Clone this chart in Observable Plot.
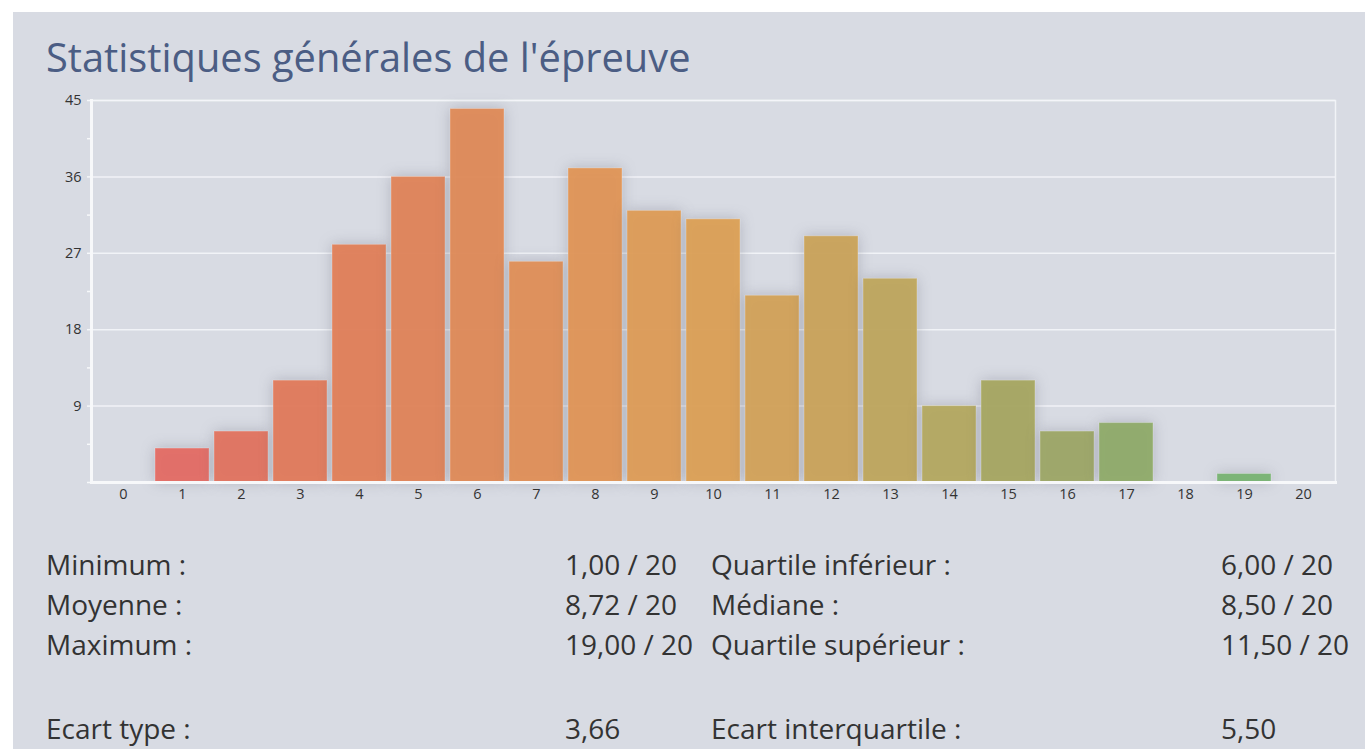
<!DOCTYPE html>
<html>
<head>
<meta charset="utf-8">
<script src="https://cdn.jsdelivr.net/npm/d3@7"></script>
<script src="https://cdn.jsdelivr.net/npm/@observablehq/plot@0.6"></script>
<style>
  html, body { margin: 0; padding: 0; background: #ffffff; width: 1365px; height: 749px; overflow: hidden; }
  #panel { position: absolute; left: 13px; top: 12px; width: 1352px; height: 737px; background: #d8dbe3; }
  #title { position: absolute; left: 46px; top: 37px; font-family: "Open Sans", sans-serif; font-size: 39.8px; color: #4b5d84; white-space: nowrap; line-height: 1; }
  #chart { position: absolute; left: 0; top: 90px; }
  #chart svg { overflow: visible; }
  #chart g[aria-label="bar"] rect { filter: drop-shadow(0 0 7px rgba(70, 70, 90, 0.28)); }
  #chart svg text { font-size: 14.5px !important; font-family: "Open Sans", sans-serif !important; }
  .st { position: absolute; font-family: "Open Sans", sans-serif; font-size: 28px; color: #333; white-space: nowrap; line-height: 1; }
</style>
</head>
<body>
<div id="panel"></div>
<div id="title">Statistiques générales de l'épreuve</div>
<div id="chart"></div>
<div id="stats"></div>
<script>
const grades = ["0","1","2","3","4","5","6","7","8","9","10","11","12","13","14","15","16","17","18","19","20"];
const counts = [0, 4, 6, 12, 28, 36, 44, 26, 37, 32, 31, 22, 29, 24, 9, 12, 6, 7, 0, 1, 0];
const barColors = ["#e46a64","#e46c64","#e2735f","#e17a5b","#e17f59","#e08458","#df8a57","#e08f57","#e09556","#de9c56","#dca055","#d3a258","#caa35a","#bfa65d","#b4a960","#a7a661","#9da766","#8fab69","#82ad6c","#78b272","#70b070"];
const yGridTicks = [9, 18, 27, 36, 45];
const yLabelTicks = [9, 18, 27, 36, 45];
const yMinorTicks = [0, 4.5, 9, 13.5, 18, 22.5, 27, 31.5, 36, 40.5, 45];

const statLabelsLeft = ["Minimum :", "Moyenne :", "Maximum :", "", "Ecart type :"];
const statValuesLeft = ["1,00 / 20", "8,72 / 20", "19,00 / 20", "", "3,66"];
const statLabelsRight = ["Quartile inférieur :", "Médiane :", "Quartile supérieur :", "", "Ecart interquartile :"];
const statValuesRight = ["6,00 / 20", "8,50 / 20", "11,50 / 20", "", "5,50"];

const table = grades.map((g, i) => ({grade: g, count: counts[i], color: barColors[i]}));

const chart = Plot.plot({
  width: 1365,
  height: 420,
  marginLeft: 91,
  marginRight: 30,
  marginTop: 10,
  marginBottom: 28,
  style: {background: "transparent", fontFamily: "'Open Sans', sans-serif", fontSize: "14.5px", color: "#333"},
  x: {type: "band", domain: grades, paddingInner: 0.08, paddingOuter: 0.04},
  y: {domain: [0, 45]},
  marks: [
    Plot.gridY(yGridTicks, {stroke: "#f4f5f8", strokeOpacity: 0.9, strokeWidth: 1.5}),
    Plot.frame({stroke: "#f4f5f8", strokeOpacity: 0.9, strokeWidth: 1.5}),
    Plot.barY(table, {x: "grade", y: "count", fill: "color", fillOpacity: 0.95, stroke: "#ffffff", strokeOpacity: 0.25, strokeWidth: 1}),
    Plot.frame({anchor: "left", stroke: "#f7f8fa", strokeWidth: 3}),
    Plot.frame({anchor: "bottom", stroke: "#f7f8fa", strokeWidth: 3}),
    Plot.axisY(yMinorTicks, {tickSize: 4, text: null, stroke: "#f7f8fa", strokeWidth: 1.5, label: null}),
    Plot.axisY(yLabelTicks, {tickSize: 0, tickPadding: 10, fill: "#333", fontSize: 14.5, label: null}),
    Plot.axisX({tickSize: 0, tickPadding: 6, fill: "#333", fontSize: 14.5, label: null})
  ]
});
document.getElementById("chart").appendChild(chart);

const stats = document.getElementById("stats");
const rowTops = [550, 590, 630, 671, 714];
function addText(txt, x, y) {
  if (!txt) return;
  const d = document.createElement("div");
  d.className = "st";
  d.style.left = x + "px";
  d.style.top = y + "px";
  d.textContent = txt;
  stats.appendChild(d);
}
rowTops.forEach((t, i) => {
  addText(statLabelsLeft[i], 46, t);
  addText(statValuesLeft[i], 565, t);
  addText(statLabelsRight[i], 711, t);
  addText(statValuesRight[i], 1221, t);
});
</script>
</body>
</html>
